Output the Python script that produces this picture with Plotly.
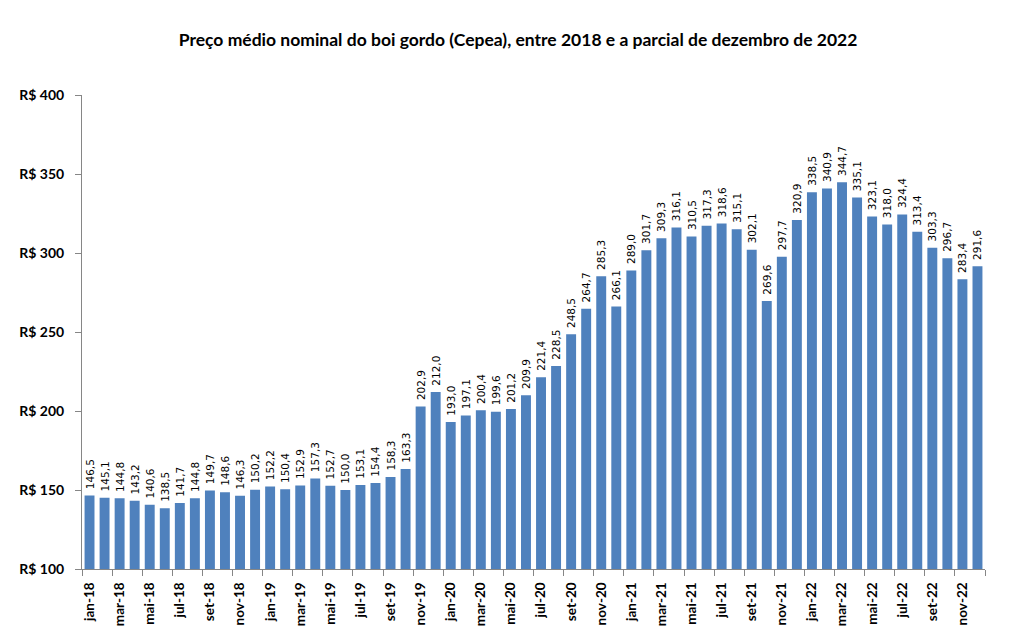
import plotly.graph_objects as go

months = ["jan", "fev", "mar", "abr", "mai", "jun", "jul", "ago", "set", "out", "nov", "dez"]
years = ["18", "19", "20", "21", "22"]
categories = [f"{m}-{y}" for y in years for m in months]

prices = [
    146.5, 145.1, 144.8, 143.2, 140.6, 138.5, 141.7, 144.8, 149.7, 148.6, 146.3, 150.2,
    152.2, 150.4, 152.9, 157.3, 152.7, 150.0, 153.1, 154.4, 158.3, 163.3, 202.9, 212.0,
    193.0, 197.1, 200.4, 199.6, 201.2, 209.9, 221.4, 228.5, 248.5, 264.7, 285.3, 266.1,
    289.0, 301.7, 309.3, 316.1, 310.5, 317.3, 318.6, 315.1, 302.1, 269.6, 297.7, 320.9,
    338.5, 340.9, 344.7, 335.1, 323.1, 318.0, 324.4, 313.4, 303.3, 296.7, 283.4, 291.6,
]

y_ticks = [100, 150, 200, 250, 300, 350, 400]
title = "Preço médio nominal do boi gordo (Cepea), entre 2018 e a parcial de dezembro de 2022"

x = list(range(len(categories)))
labels = ["\u00a0" + f"{v:.1f}".replace(".", ",") for v in prices]

fig = go.Figure(go.Bar(
    x=x, y=prices,
    marker=dict(color="#4F81BD", line=dict(width=0)),
    width=0.66,
    text=labels, textposition="outside", textangle=-90,
    constraintext="none",
    textfont=dict(family="DejaVu Sans", size=10.5, color="#000000"),
    cliponaxis=False,
))

fig.update_layout(
    width=1012, height=631,
    margin=dict(l=74, r=35, t=87, b=70, autoexpand=False),
    paper_bgcolor="white", plot_bgcolor="white",
    showlegend=False,
    title=dict(text=f"<b>{title}</b>", x=0.504, xref="container", y=0.949, yref="container",
               xanchor="center", yanchor="middle",
               font=dict(family="Lato", size=17.5, color="#000000")),
)

fig.update_xaxes(
    range=[-0.5, len(categories) - 0.5],
    tickmode="array", tickvals=x[::2], ticktext=[f"<b>{c}</b>" for c in categories[::2]],
    tickangle=-90, ticks="", ticklabelstandoff=7,
    tickfont=dict(family="Lato", size=13.5, color="#000000"),
    showline=True, linecolor="#868686", linewidth=1,
    showgrid=False, zeroline=False,
    minor=dict(tickmode="array", tickvals=[i - 0.5 for i in range(0, len(categories) + 1, 2)],
               ticks="outside", ticklen=6, tickcolor="#868686", tickwidth=1, showgrid=False),
)

fig.update_yaxes(
    range=[100, 400],
    tickmode="array", tickvals=y_ticks, ticktext=[f"<b>R$ {v}</b>" for v in y_ticks],
    ticks="outside", ticklen=6, tickcolor="#868686",
    tickfont=dict(family="Lato", size=14, color="#000000"),
    showline=True, linecolor="#868686", linewidth=1,
    showgrid=False, zeroline=False, ticklabelstandoff=8,
)

fig.write_html("out.html")
